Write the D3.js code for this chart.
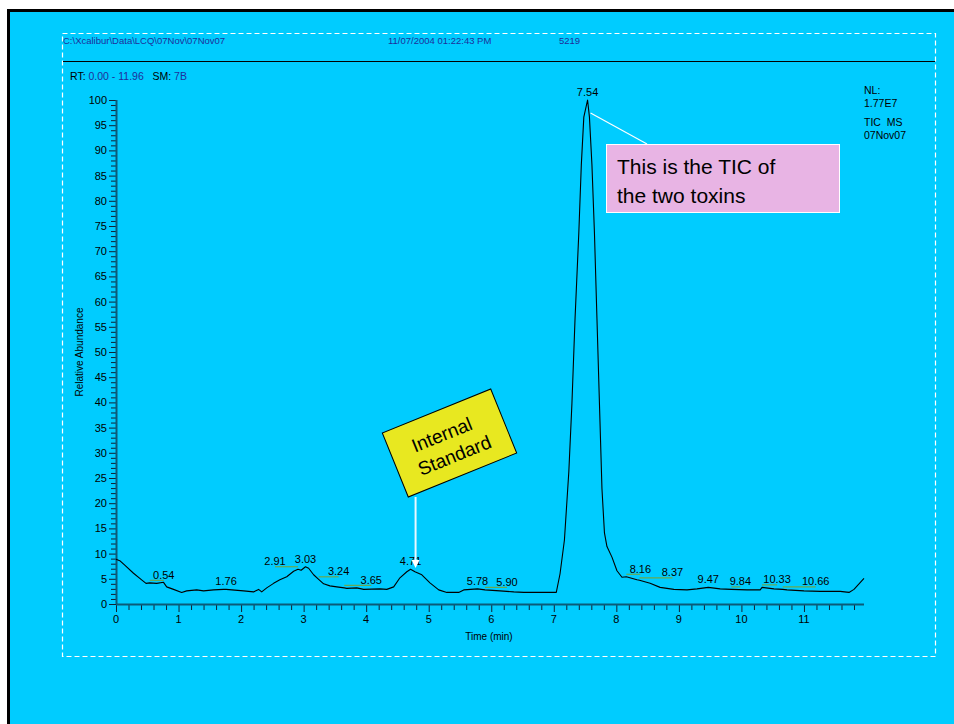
<!DOCTYPE html>
<html>
<head>
<meta charset="utf-8">
<script src="https://cdn.jsdelivr.net/npm/d3@7"></script>
<style>
  html, body { margin: 0; padding: 0; background: #ffffff; }
  svg { display: block; font-family: "Liberation Sans", Arial, sans-serif; }
</style>
</head>
<body>
<div id="chart"></div>
<script>
"use strict";

// retention time (min) and relative abundance (%) of the TIC trace
const rtMinutes = [
    0.00, 0.06, 0.14, 0.28, 0.41, 0.48, 0.54, 0.65, 0.76, 0.81, 0.92, 1.05, 1.13, 1.29, 1.40, 1.56,
    1.72, 1.76, 2.04, 2.20, 2.28, 2.33, 2.41, 2.52, 2.62, 2.73, 2.84, 2.91, 2.96, 3.03, 3.08, 3.16,
    3.24, 3.32, 3.42, 3.53, 3.65, 3.69, 3.85, 3.96, 4.22, 4.33, 4.44, 4.54, 4.65, 4.71, 4.78, 4.89,
    5.02, 5.16, 5.29, 5.48, 5.56, 5.78, 5.90, 6.14, 6.36, 6.52, 7.04, 7.10, 7.17, 7.24, 7.29, 7.34,
    7.40, 7.44, 7.48, 7.54, 7.57, 7.61, 7.65, 7.69, 7.73, 7.77, 7.81, 7.85, 7.93, 8.01, 8.09, 8.16,
    8.33, 8.37, 8.54, 8.70, 8.92, 9.13, 9.29, 9.47, 9.66, 9.84, 10.09, 10.30, 10.33, 10.52, 10.66, 10.73,
    11.00, 11.26, 11.58, 11.72, 11.80, 11.96
];
const relAbundance = [
    8.9, 8.6, 7.7, 6.1, 4.8, 4.1, 4.2, 4.1, 4.3, 3.4, 2.9, 2.3, 2.6, 2.8, 2.6, 2.8,
    2.9, 2.9, 2.6, 2.4, 2.9, 2.4, 3.2, 4.1, 4.8, 5.4, 6.5, 6.9, 6.7, 7.4, 7.1, 5.8,
    4.9, 4.0, 3.6, 3.4, 3.2, 3.1, 3.2, 2.9, 3.0, 2.9, 3.4, 5.2, 6.4, 6.9, 6.4, 5.8,
    4.2, 2.8, 2.3, 2.3, 2.8, 3.0, 2.8, 2.6, 2.4, 2.3, 2.3, 6.0, 12.7, 26.2, 39.8, 56.7,
    73.6, 87.1, 96.6, 100, 96.6, 87.1, 73.6, 56.7, 39.8, 22.9, 14.1, 11.4, 9.3, 6.6, 5.3, 5.4,
    4.8, 4.7, 4.1, 3.3, 2.9, 2.8, 3.0, 3.3, 3.0, 2.9, 2.8, 2.8, 3.3, 3.0, 2.9, 2.8,
    2.6, 2.5, 2.5, 2.3, 2.9, 5.1
];

// labelled peak apexes (min)
const peakTimes = [0.54, 1.76, 2.91, 3.03, 3.24, 3.65, 4.71, 5.78, 5.90, 7.54, 8.16, 8.37, 9.47, 9.84, 10.33, 10.66];

const xTickValues = [0, 1, 2, 3, 4, 5, 6, 7, 8, 9, 10, 11];
const yTickValues = [0, 5, 10, 15, 20, 25, 30, 35, 40, 45, 50, 55, 60, 65, 70, 75, 80, 85, 90, 95, 100];

const headerTexts = ["C:\\Xcalibur\\Data\\LCQ\\07Nov\\07Nov07", "11/07/2004 01:22:43 PM", "5219"];
const rangeText = { rtLabel: "RT: ", rtValue: "0.00 - 11.96", smLabel: "   SM: ", smValue: "7B" };
const infoLines = ["NL:", "1.77E7", "TIC  MS", "07Nov07"];
const ticNote = ["This is the TIC of", "the two toxins"];
const standardNote = ["Internal", "Standard"];

const W = 954, H = 724;
const trace = rtMinutes.map((t, i) => [t, relAbundance[i]]);

const svg = d3.select("#chart").append("svg")
    .attr("width", W)
    .attr("height", H);

// slide background + border
svg.append("rect").attr("x", 0).attr("y", 0).attr("width", W).attr("height", H).attr("fill", "#ffffff");
svg.append("rect")
    .attr("x", 8.5).attr("y", 10.5)
    .attr("width", W + 10).attr("height", H + 10)
    .attr("fill", "#00ccff")
    .attr("stroke", "#000")
    .attr("stroke-width", 3);

// dashed frame
svg.append("rect")
    .attr("x", 62.5).attr("y", 33.5)
    .attr("width", 873).attr("height", 623)
    .attr("fill", "none")
    .attr("stroke", "#ffffff")
    .attr("stroke-width", 1.2)
    .attr("stroke-dasharray", "5,3");

// header
const header = svg.append("g").attr("font-size", 9.5).attr("fill", "#1f2f9a");
header.append("text").attr("x", 63).attr("y", 44).text(headerTexts[0]);
header.append("text").attr("x", 388).attr("y", 44).text(headerTexts[1]);
header.append("text").attr("x", 559).attr("y", 44).text(headerTexts[2]);

svg.append("line")
    .attr("x1", 63).attr("x2", 935)
    .attr("y1", 61.5).attr("y2", 61.5)
    .attr("stroke", "#000").attr("stroke-width", 1);

const rt = svg.append("text").attr("x", 70).attr("y", 80).attr("font-size", 10.5).attr("xml:space", "preserve");
rt.append("tspan").attr("fill", "#000").text(rangeText.rtLabel);
rt.append("tspan").attr("fill", "#1f2f9a").text(rangeText.rtValue);
rt.append("tspan").attr("fill", "#000").text(rangeText.smLabel);
rt.append("tspan").attr("fill", "#1f2f9a").text(rangeText.smValue);

// scales
const x = d3.scaleLinear().domain([0, 11.96]).range([116, 864]);
const y = d3.scaleLinear().domain([0, 100]).range([604, 100]);

const axisColor = "#0b5a78";

// y axis: minor ticks every 1, major every 5
const yAxis = svg.append("g");
yAxis.selectAll("line.minor")
    .data(d3.range(0, 101))
    .join("line")
    .attr("x1", 116).attr("x2", d => d % 5 === 0 ? 109 : 111)
    .attr("y1", d => y(d) + 0.5).attr("y2", d => y(d) + 0.5)
    .attr("stroke", "#123")
    .attr("stroke-width", 1);
yAxis.selectAll("text")
    .data(yTickValues)
    .join("text")
    .attr("x", 107).attr("y", d => y(d) + 4)
    .attr("text-anchor", "end")
    .attr("font-size", 11)
    .attr("fill", "#000")
    .text(d => d);
yAxis.append("line")
    .attr("x1", 116.5).attr("x2", 116.5)
    .attr("y1", y(100)).attr("y2", y(0))
    .attr("stroke", axisColor).attr("stroke-width", 2);

// x axis: minor ticks every 0.2 min
const xAxis = svg.append("g");
xAxis.selectAll("line.tick")
    .data(d3.range(0, 60))
    .join("line")
    .attr("x1", d => x(d / 5) + 0.5).attr("x2", d => x(d / 5) + 0.5)
    .attr("y1", 604).attr("y2", d => d % 5 === 0 ? 612 : 610)
    .attr("stroke", "#123")
    .attr("stroke-width", 1);
xAxis.selectAll("text")
    .data(xTickValues)
    .join("text")
    .attr("x", d => x(d)).attr("y", 623)
    .attr("text-anchor", "middle")
    .attr("font-size", 11)
    .attr("fill", "#000")
    .text(d => d);
xAxis.append("line")
    .attr("x1", x(0)).attr("x2", x(11.96))
    .attr("y1", 604.5).attr("y2", 604.5)
    .attr("stroke", axisColor).attr("stroke-width", 2);

// axis titles
svg.append("text")
    .attr("x", 489).attr("y", 640)
    .attr("text-anchor", "middle")
    .attr("font-size", 10)
    .text("Time (min)");
svg.append("text")
    .attr("transform", "translate(83," + y(50) + ") rotate(-90)")
    .attr("text-anchor", "middle")
    .attr("font-size", 10)
    .text("Relative Abundance");

// trace
svg.append("path")
    .datum(trace)
    .attr("fill", "none")
    .attr("stroke", "#000")
    .attr("stroke-width", 1.1)
    .attr("stroke-linejoin", "round")
    .attr("d", d3.line().x(d => x(d[0])).y(d => y(d[1])));

// peak labels, nudged where Xcalibur moved them aside
function valueAt(t) {
    const i = d3.bisector(d => d[0]).left(trace, t);
    if (i <= 0) { return trace[0][1]; }
    if (i >= trace.length) { return trace[trace.length - 1][1]; }
    const a = trace[i - 1], b = trace[i];
    return a[1] + (b[1] - a[1]) * (t - a[0]) / (b[0] - a[0]);
}
const labelNudge = { "0.54": 14, "2.91": -23, "3.24": 20, "3.65": 27, "5.90": 22, "8.16": 14, "8.37": 33, "9.84": 9, "10.33": 15, "10.66": 33 };

const labels = svg.append("g");
peakTimes.forEach(t => {
    const key = t.toFixed(2);
    const dx = labelNudge[key] || 0;
    const px = x(t);
    const py = y(valueAt(t)) - 4;
    if (dx !== 0) {
        labels.append("line")
            .attr("x1", px).attr("x2", px + dx)
            .attr("y1", py + 1.5).attr("y2", py + 1.5)
            .attr("stroke", "#6aa84f")
            .attr("stroke-width", 1.2);
    }
    labels.append("text")
        .attr("x", px + dx).attr("y", py)
        .attr("text-anchor", "middle")
        .attr("font-size", 11)
        .attr("fill", "#000")
        .text(key);
});

// right-hand info block
const info = svg.append("g").attr("font-size", 10.5).attr("fill", "#000");
[94, 107, 126, 139].forEach((yy, i) => {
    info.append("text").attr("x", 864).attr("y", yy).attr("xml:space", "preserve").text(infoLines[i]);
});

// TIC callout
const peakX = x(7.54), peakY = y(100);
svg.append("line")
    .attr("x1", peakX + 3).attr("y1", peakY + 13)
    .attr("x2", 647).attr("y2", 144)
    .attr("stroke", "#ffffff").attr("stroke-width", 1.2);
svg.append("rect")
    .attr("x", 606.5).attr("y", 144.5)
    .attr("width", 233).attr("height", 68)
    .attr("fill", "#e8b4e4")
    .attr("stroke", "#ffffff").attr("stroke-width", 1);
ticNote.forEach((s, i) => {
    svg.append("text")
        .attr("x", 617).attr("y", 174 + i * 29)
        .attr("font-size", 21)
        .attr("fill", "#000")
        .text(s);
});

// internal standard callout
const isX = x(4.79);
svg.append("line")
    .attr("x1", isX).attr("x2", isX)
    .attr("y1", 497).attr("y2", 561)
    .attr("stroke", "#e8f8ff").attr("stroke-width", 2);
svg.append("path")
    .attr("d", "M" + (isX - 4) + ",560 L" + (isX + 4) + ",560 L" + isX + ",568 Z")
    .attr("fill", "#ffffff");

const box = svg.append("g").attr("transform", "translate(449.5,443) rotate(-22.1)");
box.append("rect")
    .attr("x", -58.5).attr("y", -34.5)
    .attr("width", 117).attr("height", 69)
    .attr("fill", "#e8e820")
    .attr("stroke", "#000").attr("stroke-width", 1);
standardNote.forEach((s, i) => {
    box.append("text")
        .attr("x", i === 0 ? -4 : 0).attr("y", -4 + i * 24)
        .attr("text-anchor", "middle")
        .attr("font-size", 19)
        .attr("fill", "#000")
        .text(s);
});
</script>
</body>
</html>
